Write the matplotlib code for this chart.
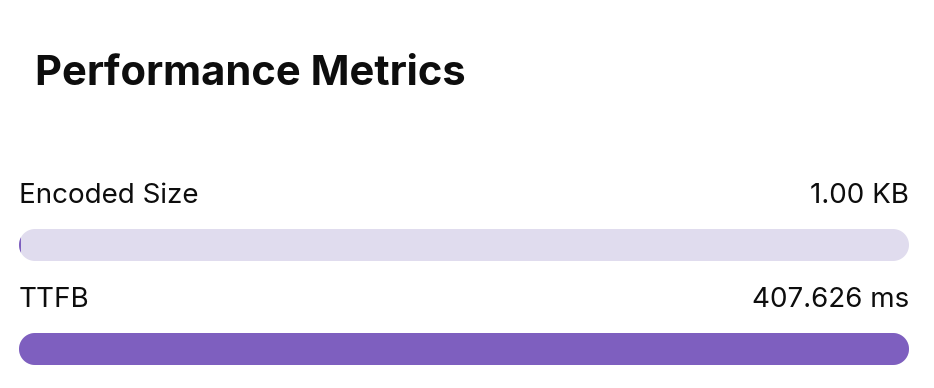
import numpy as np
import matplotlib
matplotlib.use("Agg")
import matplotlib.pyplot as plt
from matplotlib.patches import PathPatch
from matplotlib.path import Path
from matplotlib.transforms import Affine2D

# Data
metric_names = ["Encoded Size", "TTFB"]
metric_labels = ["1.00 KB", "407.626 ms"]
fill_percent = [0.25, 100.0]  # bar fill, percent of track

track_color = "#E0DCEE"
fill_color = "#7E5FBF"
text_color = "#0d0d0d"

W, H = 934, 388
fig = plt.figure(figsize=(W / 100, H / 100), dpi=100)
fig.patch.set_facecolor("white")

fig.text(35 / W, 1 - 74 / H, "Performance Metrics", fontsize=30, fontweight="bold",
         family="Inter", color=text_color, ha="left", va="center")

# bar area: x in percent, y in pixels (top-down)
x0, x1 = 19, 909
ax = fig.add_axes([x0 / W, 0, (x1 - x0) / W, 1])
ax.set_xlim(0, 100)
ax.set_ylim(H, 0)
ax.axis("off")

px_per_x = (x1 - x0) / 100.0
bar_h = 32
first_bar_y = 245
row_gap = 104
label_offset = 49


def pill(length_px, yc, r):
    # stadium shape in pixel units along x
    a = np.linspace(np.pi / 2, 3 * np.pi / 2, 40)
    left = np.column_stack([r + r * np.cos(a), yc - r * np.sin(a)])
    b = np.linspace(-np.pi / 2, np.pi / 2, 40)
    right = np.column_stack([length_px - r + r * np.cos(b), yc - r * np.sin(b)])
    verts = np.vstack([left, right, left[:1]])
    return Path(verts, closed=True)


to_data = Affine2D().scale(1 / px_per_x, 1) + ax.transData

for i, (name, lab, pct) in enumerate(zip(metric_names, metric_labels, fill_percent)):
    yc = first_bar_y + i * row_gap
    track = PathPatch(pill(100 * px_per_x, yc, bar_h / 2), fc=track_color, ec="none",
                      transform=to_data)
    ax.add_patch(track)
    bars = ax.barh([yc], [pct], height=bar_h, left=0, color=fill_color)
    for b in bars:
        b.set_clip_path(track)
    ax.text(0, yc - label_offset, name, fontsize=20, family="Inter",
            color=text_color, ha="left", va="center")
    ax.text(100, yc - label_offset, lab, fontsize=20, family="Inter",
            color=text_color, ha="right", va="center")

fig.savefig("out.png", dpi=100, facecolor="white")
